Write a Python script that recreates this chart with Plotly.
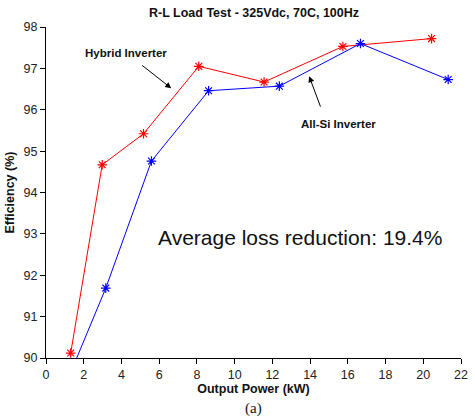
import plotly.graph_objects as go

hybrid_kw = [1.31, 2.98, 5.17, 8.10, 11.56, 15.74, 20.44]
hybrid_eff = [90.12, 94.67, 95.42, 97.05, 96.67, 97.53, 97.72]

allsi_kw = [1.40, 3.17, 5.59, 8.62, 12.37, 16.67, 21.32]
allsi_eff = [89.75, 91.69, 94.76, 96.46, 96.57, 97.60, 96.73]

x_ticks = list(range(0, 23, 2))
y_ticks = list(range(90, 99))

fig = go.Figure()
fig.add_trace(go.Scatter(x=hybrid_kw, y=hybrid_eff, mode="lines+markers",
                         line=dict(color="#ff0000", width=1),
                         marker=dict(symbol="asterisk-open", size=8,
                                     line=dict(color="#ff0000", width=1.2)),
                         name="Hybrid Inverter"))
fig.add_trace(go.Scatter(x=allsi_kw, y=allsi_eff, mode="lines+markers",
                         line=dict(color="#0000ff", width=1),
                         marker=dict(symbol="asterisk-open", size=8,
                                     line=dict(color="#0000ff", width=1.2)),
                         name="All-Si Inverter"))

sans = "Liberation Sans, Arial, sans-serif"
axis_font = dict(family=sans, size=12.5, color="#222")
title_font = dict(family=sans, size=12.5, color="#111")

fig.update_layout(
    width=475, height=420,
    margin=dict(l=46, r=7, t=27, b=62),
    plot_bgcolor="white", paper_bgcolor="white",
    showlegend=False,
    xaxis=dict(range=[0, 22], tickvals=x_ticks, ticks="outside", ticklen=5,
               tickcolor="black", showline=True, linecolor="black", linewidth=1,
               showgrid=False, zeroline=False, tickfont=axis_font,
               title=dict(text="<b>Output Power (kW)</b>", font=title_font, standoff=2)),
    yaxis=dict(range=[90, 98], tickvals=y_ticks, ticks="outside", ticklen=5,
               tickcolor="black", showline=True, linecolor="black", linewidth=1,
               showgrid=False, zeroline=False, tickfont=axis_font,
               title=dict(text="<b>Efficiency (%)</b>", font=title_font, standoff=6)),
    annotations=[
        dict(text="<b>R-L Load Test - 325Vdc, 70C, 100Hz</b>", xref="paper", yref="paper",
             x=0.5, y=1.0, yanchor="middle", yshift=14, showarrow=False,
             font=dict(family=sans, size=12.5, color="#111")),
        dict(text="<b>Hybrid Inverter</b>", x=4.23, y=97.37, showarrow=False,
             font=dict(family=sans, size=11.5, color="#111")),
        dict(text="", x=6.64, y=96.52, ax=5.02, ay=97.10, axref="x", ayref="y",
             showarrow=True, arrowhead=2, arrowsize=1.2, arrowwidth=1, arrowcolor="black"),
        dict(text="<b>All-Si Inverter</b>", x=15.52, y=95.66, showarrow=False,
             font=dict(family=sans, size=11.5, color="#111")),
        dict(text="", x=13.95, y=96.81, ax=14.58, ay=96.04, axref="x", ayref="y",
             showarrow=True, arrowhead=2, arrowsize=1.2, arrowwidth=1, arrowcolor="black"),
        dict(text="Average loss reduction: 19.4%", x=13.48, y=92.91, showarrow=False,
             font=dict(family=sans, size=21, color="#111")),
        dict(text="(a)", xref="paper", yref="paper", x=0.5, y=0, yanchor="middle",
             yshift=-50, showarrow=False,
             font=dict(family="Liberation Serif, Times New Roman, serif", size=15, color="#111")),
    ],
)

fig.write_html("out.html")
